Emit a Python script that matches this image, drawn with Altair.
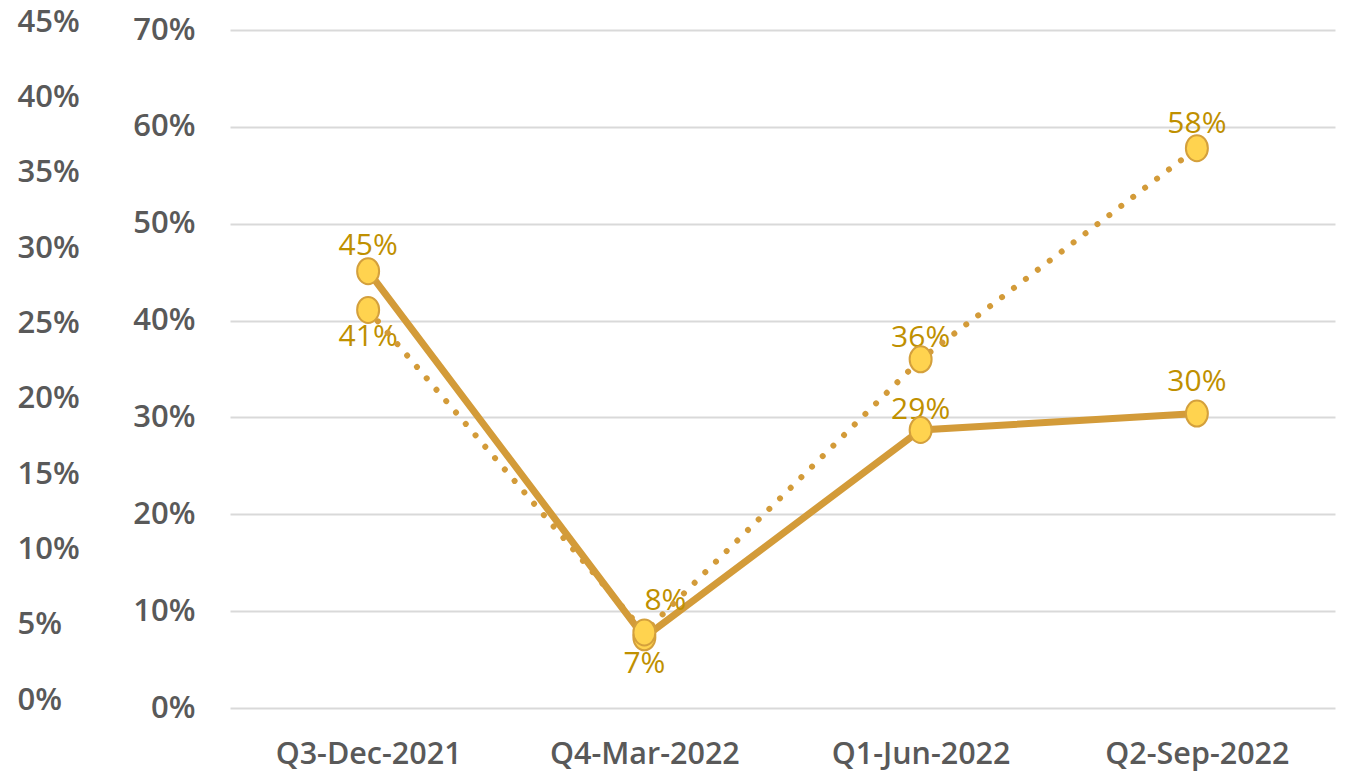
import altair as alt
import pandas as pd

quarters = ["Q3-Dec-2021", "Q4-Mar-2022", "Q1-Jun-2022", "Q2-Sep-2022"]
solid_values = [0.451, 0.073, 0.287, 0.304]
dotted_values = [0.411, 0.078, 0.360, 0.578]
outer_ticks = [0.0, 0.05, 0.10, 0.15, 0.20, 0.25, 0.30, 0.35, 0.40, 0.45]
inner_ticks = [0.0, 0.1, 0.2, 0.3, 0.4, 0.5, 0.6, 0.7]

# label placement (style): (dx, dy) relative to the point
label_offsets = {
    "Solid": [(0, -25), (0, 27), (0, -20), (0, -32)],
    "Dotted": [(0, 27), (21, -31), (0, -21), (0, -24)],
}

rows = []
for name, vals in (("Solid", solid_values), ("Dotted", dotted_values)):
    for q, v in zip(quarters, vals):
        rows.append({"quarter": q, "value": v, "series": name})
df = pd.DataFrame(rows)
outer_df = pd.DataFrame({"v": outer_ticks})

FONT = "Open Sans"
AXIS_COLOR = "#595959"
LINE_COLOR = "#D39B39"
AX_FS = 31

x_enc = alt.X(
    "quarter:N",
    sort=quarters,
    scale=alt.Scale(type="point", padding=0.5),
    axis=alt.Axis(
        title=None, labelAngle=0, ticks=False, domain=False, grid=False,
        labelPadding=31, labelFontSize=30.5, labelFontWeight=600, labelLimit=400,
        labelColor=AXIS_COLOR, labelFont=FONT,
    ),
)
y_scale = alt.Scale(domain=[0, 0.7], nice=False, zero=True)
y_enc = alt.Y(
    "value:Q",
    scale=y_scale,
    axis=alt.Axis(
        title=None, values=inner_ticks, format=".0%", ticks=False, domain=False,
        grid=True, gridColor="#D9D9D9", gridWidth=2,
        labelPadding=35, labelFontSize=AX_FS, labelFontWeight=600,
        labelColor=AXIS_COLOR, labelFont=FONT,
    ),
)

base = alt.Chart(df)

dotted_line = base.transform_filter("datum.series == 'Dotted'").mark_line(
    color=LINE_COLOR, strokeWidth=6, strokeDash=[0.01, 15], strokeCap="round"
).encode(x=x_enc, y=y_enc)

solid_line = base.transform_filter("datum.series == 'Solid'").mark_line(
    color=LINE_COLOR, strokeWidth=7, strokeCap="round"
).encode(x=x_enc, y=y_enc)

ellipse = "M-0.846,0A0.846,1,0,1,0,0.846,0A0.846,1,0,1,0,-0.846,0Z"
points = base.mark_point(
    shape=ellipse, size=676, filled=True, fill="#FFD34F", stroke="#D4A03C",
    strokeWidth=2, opacity=1,
).encode(x=x_enc, y=y_enc)

label_layers = []
for name in ("Solid", "Dotted"):
    for i, q in enumerate(quarters):
        dx, dy = label_offsets[name][i]
        label_layers.append(
            base.transform_filter(
                f"datum.series == '{name}' && datum.quarter == '{q}'"
            ).mark_text(
                font=FONT, fontSize=30, color="#BF9000", baseline="middle",
                align="center", dx=dx, dy=dy,
            ).encode(x=x_enc, y=y_enc, text=alt.Text("value:Q", format=".0%"))
        )

main = alt.layer(solid_line, *label_layers, dotted_line, points)

outer = alt.Chart(outer_df).mark_tick(opacity=0).encode(
    y=alt.Y(
        "v:Q",
        scale=alt.Scale(domain=[0, 0.45], nice=False),
        axis=alt.Axis(
            title=None, orient="left", values=outer_ticks, format=".0%",
            ticks=False, domain=False, grid=False, labelAlign="left",
            labelPadding=213, labelOffset=-8, labelFontSize=AX_FS,
            labelFontWeight=600, labelColor=AXIS_COLOR, labelFont=FONT,
        ),
    )
)

chart = alt.layer(main, outer).resolve_scale(y="independent").properties(
    width=1105, height=678,
    autosize=alt.AutoSizeParams(type="none"),
    padding={"left": 230, "top": 30, "right": 10, "bottom": 65},
    background="white",
).configure_view(stroke=None)

chart.save("out.html", embed_options={"renderer": "svg", "actions": False})
